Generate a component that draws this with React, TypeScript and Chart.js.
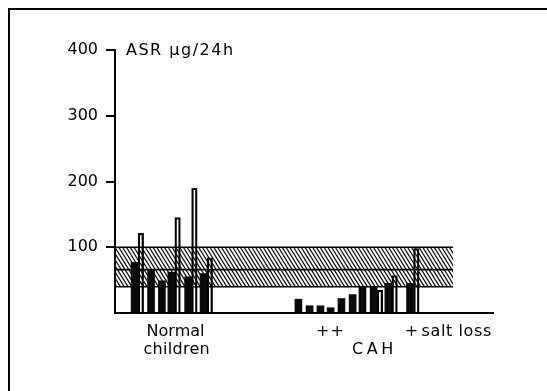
import { useEffect, useRef } from 'react';
import { Chart, registerables } from 'chart.js';

Chart.register(...registerables);

// ---- data ----
const normalBlack = [77, 66, 49, 62, 55, 60];
const normalWhite = [121, null, null, 145, 190, 84];
const cahBlack = [21, 11, 11, 8, 22, 28, 40, 40, 45, 45];
const cahWhite = [null, null, null, null, null, null, null, 35, 57, 98];
// subject positions along the (unitless) x axis
const normalPos = [6.6, 11.3, 14.4, 17.1, 21.9, 26.3];
const cahPos = [53.4, 56.6, 59.7, 62.6, 65.7, 68.9, 71.7, 74.9, 79.1, 85.3];
const yTicks = [0, 100, 200, 300, 400];
const rangeLow = 40;
const rangeMid = 66;
const rangeHigh = 100;
const rangeEnd = 96.6;
const xMax = 108;
const yTitle = 'ASR µg/24h';
const labelNormal = ['Normal', 'children'];
const labelCAH = ['++', 'CAH', '+', 'salt loss'];

const FONT = '"DejaVu Sans", sans-serif';
const INK = '#000';

const toPoints = (pos: number[], vals: (number | null)[]) =>
  pos.map((x, i) => ({ x, y: vals[i] }));

export default function App() {
  const ref = useRef<HTMLCanvasElement | null>(null);

  useEffect(() => {
    const canvas = ref.current;
    if (!canvas) return;

    const framePlugin = {
      id: 'frame',
      beforeDraw(chart: any) {
        const ctx = chart.ctx;
        ctx.save();
        ctx.strokeStyle = INK;
        ctx.lineWidth = 2;
        ctx.beginPath();
        ctx.moveTo(9, 391);
        ctx.lineTo(9, 9);
        ctx.lineTo(547, 9);
        ctx.stroke();
        ctx.restore();
      },
    };

    const bandPlugin = {
      id: 'band',
      beforeDatasetsDraw(chart: any) {
        const { ctx, scales } = chart;
        const x = scales.x;
        const y = scales.y;
        const x0 = x.getPixelForValue(0);
        const x1 = x.getPixelForValue(rangeEnd);
        const yTop = y.getPixelForValue(rangeHigh);
        const yBot = y.getPixelForValue(rangeLow);
        const yMid = y.getPixelForValue(rangeMid);
        ctx.save();
        ctx.beginPath();
        ctx.rect(x0, yTop, x1 - x0, yBot - yTop);
        ctx.clip();
        ctx.beginPath();
        ctx.strokeStyle = '#111';
        ctx.lineWidth = 1.25;
        const h = yBot - yTop;
        const slope = 0.62;
        for (let sx = x0 - h * slope - 6; sx < x1 + 6; sx += 3.8) {
          ctx.moveTo(sx, yTop);
          ctx.lineTo(sx + h * slope, yBot);
        }
        ctx.stroke();
        ctx.restore();
        ctx.save();
        ctx.strokeStyle = INK;
        ctx.lineWidth = 1.6;
        ctx.beginPath();
        for (const yy of [yTop, yMid, yBot]) {
          ctx.moveTo(x0, yy);
          ctx.lineTo(x1, yy);
        }
        ctx.stroke();
        ctx.restore();
      },
    };

    const textPlugin = {
      id: 'texts',
      afterDraw(chart: any) {
        const { ctx, scales, chartArea } = chart;
        const x = scales.x;
        const y = scales.y;
        const draw = (t: string, px: number, py: number, align: CanvasTextAlign, ls = 0) => {
          (ctx as any).letterSpacing = ls + 'px';
          ctx.textAlign = align;
          let dx = 0;
          if (align === 'center') dx = ls / 2;
          ctx.fillText(t, px + dx, py);
        };
        ctx.save();
        ctx.fillStyle = INK;
        ctx.font = `16px ${FONT}`;
        ctx.textBaseline = 'middle';
        // axis title
        draw(yTitle, chartArea.left + 11, y.getPixelForValue(400) + 1, 'left', 1.5);
        const row1 = chartArea.bottom + 19;
        const row2 = chartArea.bottom + 37;
        draw(labelNormal[0], x.getPixelForValue(17.3), row1, 'center', 0);
        draw(labelNormal[1], x.getPixelForValue(17.6), row2, 'center', 0.3);
        draw(labelCAH[0], x.getPixelForValue(61.4), row1, 'center', 1);
        draw(labelCAH[1], x.getPixelForValue(73.6), row2, 'center', 3.5);
        draw(labelCAH[2], x.getPixelForValue(84.7), row1, 'center', 0);
        draw(labelCAH[3], x.getPixelForValue(87.6), row1, 'left', 0.6);
        ctx.restore();
      },
    };

    const chart = new Chart(canvas, {
      type: 'bar',
      data: {
        datasets: [
          {
            label: 'black',
            data: [...toPoints(normalPos, normalBlack), ...toPoints(cahPos, cahBlack)] as any,
            backgroundColor: '#0a0a0a',
            borderWidth: 0,
            barThickness: 7,
          },
          {
            label: 'white',
            data: [...toPoints(normalPos, normalWhite), ...toPoints(cahPos, cahWhite)] as any,
            backgroundColor: 'rgba(255,255,255,0)',
            borderColor: INK,
            borderWidth: 1.6,
            barThickness: 5.5,
          },
        ],
      },
      options: {
        responsive: false,
        animation: false,
        devicePixelRatio: 1,
        layout: { padding: { left: 65, top: 50, right: 54, bottom: 78 } },
        plugins: {
          legend: { display: false },
          tooltip: { enabled: false },
        },
        scales: {
          x: {
            type: 'linear',
            min: 0,
            max: xMax,
            offset: false,
            grid: { display: false },
            ticks: { display: false },
            border: { display: true, color: INK, width: 2 },
            afterFit: (s: any) => {
              s.height = 0;
            },
          },
          y: {
            min: 0,
            max: 400,
            afterBuildTicks: (s: any) => {
              s.ticks = yTicks.map((v) => ({ value: v }));
            },
            ticks: {
              callback: (v: any) => (v === 0 ? '' : String(v)),
              font: { family: FONT, size: 16 },
              color: INK,
              padding: 8,
            },
            grid: {
              drawOnChartArea: false,
              drawTicks: true,
              tickLength: 9,
              lineWidth: 2,
              color: (c: any) => (c.tick && c.tick.value === 0 ? 'rgba(0,0,0,0)' : INK),
            },
            border: { display: true, color: INK, width: 2 },
            afterFit: (s: any) => {
              s.width = 50;
            },
          },
        },
      },
      plugins: [framePlugin, bandPlugin, textPlugin],
    } as any);

    return () => chart.destroy();
  }, []);

  return (
    <div style={{ position: 'absolute', left: 0, top: 0, width: 547, height: 391, background: '#fff' }}>
      <canvas ref={ref} width={547} height={391} />
    </div>
  );
}
